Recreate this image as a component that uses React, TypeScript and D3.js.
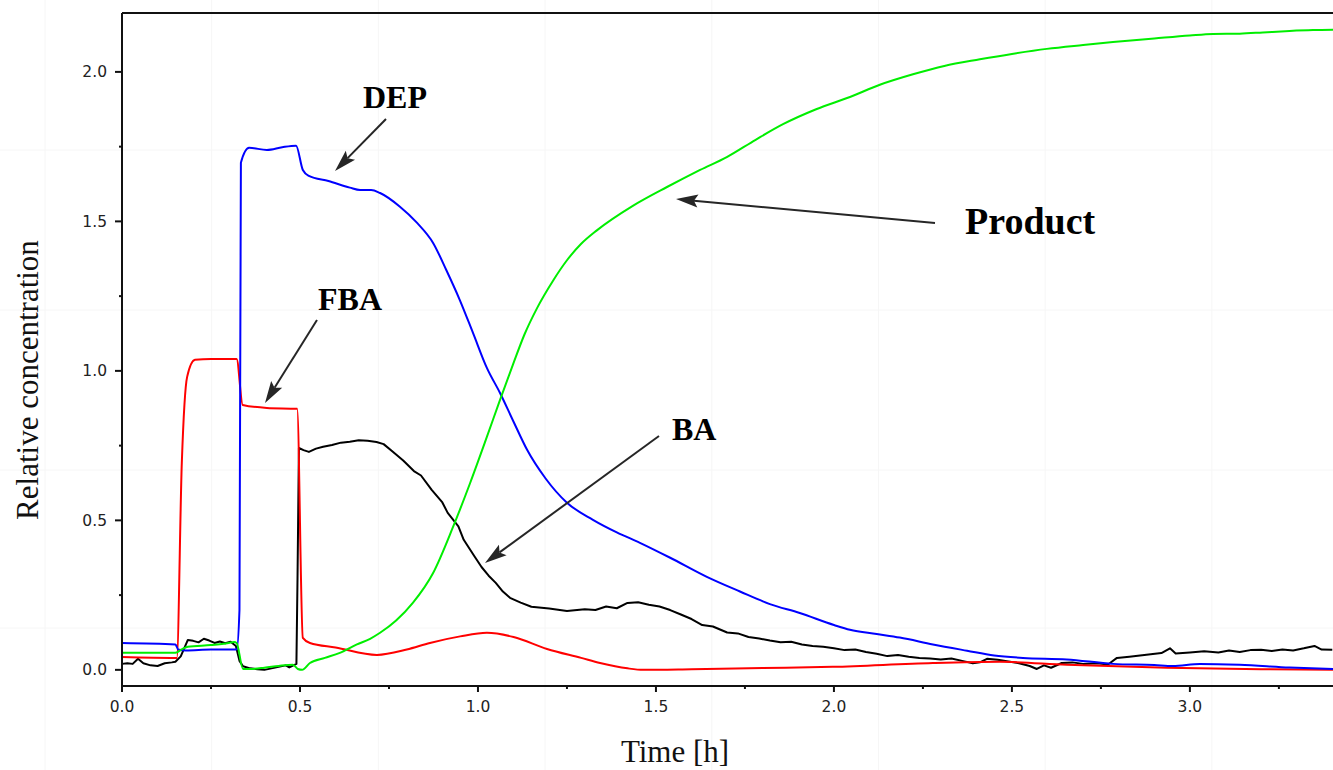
import React from "react";
import * as d3 from "d3";

// time [h] / relative concentration
const depTime = [0, 0.15, 0.158, 0.18, 0.25, 0.322, 0.33, 0.334, 0.357, 0.407, 0.45, 0.489, 0.508, 0.525, 0.58, 0.64, 0.669, 0.7, 0.725, 0.78, 0.829, 0.874, 0.91, 0.949, 0.986, 1.025, 1.062, 1.1, 1.138, 1.19, 1.25, 1.323, 1.39, 1.455, 1.54, 1.643, 1.736, 1.82, 1.904, 2.0, 2.045, 2.12, 2.185, 2.278, 2.374, 2.45, 2.531, 2.654, 2.784, 2.9, 2.952, 3.028, 3.14, 3.28, 3.402];
const depValue = [0.09, 0.085, 0.068, 0.065, 0.068, 0.068, 0.2, 1.696, 1.746, 1.739, 1.748, 1.753, 1.672, 1.652, 1.635, 1.613, 1.605, 1.605, 1.595, 1.55, 1.495, 1.428, 1.34, 1.237, 1.127, 1.01, 0.926, 0.83, 0.736, 0.64, 0.559, 0.502, 0.46, 0.425, 0.375, 0.311, 0.262, 0.22, 0.19, 0.15, 0.134, 0.12, 0.108, 0.085, 0.064, 0.048, 0.04, 0.035, 0.02, 0.016, 0.013, 0.02, 0.017, 0.008, 0.003];

const fbaTime = [0, 0.15, 0.154, 0.168, 0.183, 0.205, 0.25, 0.322, 0.339, 0.407, 0.492, 0.508, 0.528, 0.6, 0.716, 0.8, 0.865, 0.95, 1.025, 1.1, 1.194, 1.29, 1.343, 1.42, 1.464, 1.6, 1.8, 1.997, 2.278, 2.466, 2.654, 2.935, 3.2, 3.402];
const fbaValue = [0.043, 0.04, 0.04, 0.692, 0.98, 1.037, 1.04, 1.04, 0.886, 0.876, 0.873, 0.107, 0.09, 0.075, 0.05, 0.068, 0.09, 0.112, 0.124, 0.11, 0.07, 0.04, 0.023, 0.005, 0.0, 0.002, 0.006, 0.01, 0.023, 0.027, 0.017, 0.007, 0.002, 0.0];

const productTime = [0, 0.15, 0.17, 0.185, 0.25, 0.3, 0.315, 0.322, 0.34, 0.36, 0.4, 0.44, 0.48, 0.494, 0.506, 0.528, 0.57, 0.612, 0.66, 0.697, 0.725, 0.77, 0.817, 0.874, 0.93, 0.978, 1.025, 1.062, 1.098, 1.13, 1.166, 1.21, 1.25, 1.29, 1.334, 1.435, 1.531, 1.576, 1.624, 1.699, 1.78, 1.857, 1.95, 2.045, 2.129, 2.222, 2.31, 2.41, 2.5, 2.598, 2.7, 2.784, 2.9, 3.0, 3.065, 3.14, 3.205, 3.28, 3.346, 3.402];
const productValue = [0.057, 0.057, 0.07, 0.077, 0.083, 0.09, 0.093, 0.09, 0.003, 0.003, 0.007, 0.013, 0.017, 0.003, 0.0, 0.023, 0.04, 0.057, 0.085, 0.104, 0.124, 0.165, 0.224, 0.324, 0.478, 0.625, 0.779, 0.903, 1.02, 1.12, 1.21, 1.3, 1.37, 1.425, 1.47, 1.552, 1.615, 1.643, 1.672, 1.715, 1.773, 1.825, 1.875, 1.916, 1.957, 1.992, 2.02, 2.042, 2.06, 2.077, 2.09, 2.1, 2.112, 2.122, 2.127, 2.128, 2.132, 2.137, 2.14, 2.141];

const baTime = [0, 0.015, 0.03, 0.045, 0.06, 0.08, 0.1, 0.12, 0.14, 0.15, 0.165, 0.185, 0.2, 0.215, 0.23, 0.245, 0.26, 0.275, 0.29, 0.305, 0.32, 0.33, 0.34, 0.36, 0.38, 0.4, 0.42, 0.44, 0.46, 0.47, 0.48, 0.49, 0.493, 0.497, 0.51, 0.525, 0.545, 0.565, 0.59, 0.615, 0.64, 0.665, 0.69, 0.715, 0.735, 0.76, 0.79, 0.82, 0.84, 0.87, 0.9, 0.915, 0.945, 0.96, 0.99, 1.01, 1.03, 1.05, 1.07, 1.09, 1.12, 1.15, 1.2, 1.25, 1.3, 1.33, 1.36, 1.39, 1.42, 1.45, 1.48, 1.51, 1.54, 1.57, 1.6, 1.63, 1.66, 1.7, 1.73, 1.76, 1.79, 1.82, 1.85, 1.88, 1.91, 1.94, 1.97, 2.0, 2.03, 2.06, 2.09, 2.12, 2.15, 2.18, 2.21, 2.24, 2.27, 2.3, 2.33, 2.36, 2.39, 2.41, 2.43, 2.46, 2.49, 2.52, 2.55, 2.57, 2.59, 2.61, 2.64, 2.67, 2.7, 2.74, 2.77, 2.795, 2.83, 2.86, 2.89, 2.92, 2.944, 2.96, 3.0, 3.04, 3.08, 3.11, 3.14, 3.17, 3.2, 3.23, 3.26, 3.29, 3.32, 3.35, 3.37, 3.4];
const baValue = [0.02, 0.022, 0.02, 0.037, 0.022, 0.015, 0.013, 0.022, 0.025, 0.027, 0.045, 0.1, 0.097, 0.092, 0.104, 0.098, 0.09, 0.095, 0.089, 0.094, 0.08, 0.03, 0.012, 0.005, 0.002, 0.0, 0.005, 0.01, 0.015, 0.008, 0.014, 0.02, 0.3, 0.742, 0.735, 0.729, 0.74, 0.746, 0.752, 0.76, 0.763, 0.768, 0.766, 0.762, 0.755, 0.73, 0.7, 0.665, 0.65, 0.602, 0.56, 0.525, 0.48, 0.435, 0.38, 0.344, 0.315, 0.291, 0.262, 0.241, 0.225, 0.211, 0.205, 0.197, 0.203, 0.2, 0.212, 0.206, 0.224, 0.226, 0.218, 0.212, 0.2, 0.185, 0.17, 0.15, 0.145, 0.125, 0.122, 0.11, 0.105, 0.098, 0.092, 0.094, 0.085, 0.08, 0.077, 0.072, 0.066, 0.068, 0.06, 0.054, 0.046, 0.05, 0.044, 0.04, 0.038, 0.035, 0.038, 0.03, 0.022, 0.025, 0.037, 0.034, 0.028, 0.022, 0.013, 0.003, 0.015, 0.007, 0.023, 0.025, 0.02, 0.022, 0.018, 0.04, 0.044, 0.048, 0.052, 0.056, 0.072, 0.055, 0.058, 0.062, 0.058, 0.065, 0.06, 0.066, 0.067, 0.063, 0.068, 0.065, 0.072, 0.08, 0.068, 0.067];

const xTicks = [0, 0.5, 1, 1.5, 2, 2.5, 3];
const xMinor = [0.25, 0.75, 1.25, 1.75, 2.25, 2.75, 3.25];
const yTicks = [0, 0.5, 1, 1.5, 2];
const yMinor = [0.25, 0.75, 1.25, 1.75];

const W = 1333;
const H = 770;
const left = 122;
const top = 13;
const bottom = 686;

const x = d3.scaleLinear().domain([0, 3.402]).range([left, W]);
const y = d3.scaleLinear().domain([-0.054, 2.197]).range([bottom, top]);

const zip = (ts: number[], vs: number[]) => ts.map((t, i) => [t, vs[i]] as [number, number]);
const smooth = d3.line<[number, number]>().x(d => x(d[0])).y(d => y(d[1])).curve(d3.curveMonotoneX);
const rough = d3.line<[number, number]>().x(d => x(d[0])).y(d => y(d[1]));

const series = [
  { name: "BA", color: "#000000", pts: zip(baTime, baValue), gen: rough },
  { name: "FBA", color: "#ff0000", pts: zip(fbaTime, fbaValue), gen: smooth },
  { name: "DEP", color: "#0000ff", pts: zip(depTime, depValue), gen: smooth },
  { name: "Product", color: "#00ee00", pts: zip(productTime, productValue), gen: smooth },
];

// label text, position and arrow (tail -> tip)
const notes = [
  { text: "DEP", tx: 363, ty: 108, size: 32, from: [386, 119], to: [335, 171] },
  { text: "FBA", tx: 318, ty: 310, size: 32, from: [317, 320], to: [265, 403] },
  { text: "Product", tx: 965, ty: 234, size: 38, from: [935, 223], to: [676, 199] },
  { text: "BA", tx: 672, ty: 440, size: 32, from: [659, 436], to: [485, 563] },
];

function Arrow({ from, to }: { from: number[]; to: number[] }) {
  const dx = to[0] - from[0];
  const dy = to[1] - from[1];
  const len = Math.hypot(dx, dy);
  const ux = dx / len, uy = dy / len;
  const hl = 22, hw = 6.5;
  const bx = to[0] - ux * hl, by = to[1] - uy * hl;
  const head = `M${to[0]},${to[1]} L${bx - uy * hw},${by + ux * hw} L${bx + ux * 4},${by + uy * 4} L${bx + uy * hw},${by - ux * hw} Z`;
  return (
    <g>
      <line x1={from[0]} y1={from[1]} x2={bx + ux * 4} y2={by + uy * 4} stroke="#262626" strokeWidth={2} />
      <path d={head} fill="#262626" />
    </g>
  );
}

export default function App() {
  const tileX = d3.range(0, 8).map(i => 45 + i * 166.7);
  const tileY = [150, 310, 470, 628];
  return (
    <svg width={W} height={H} style={{ position: "absolute", left: 0, top: 0, background: "#fff" }}>
      {tileX.map(v => <line key={"tx" + v} x1={v} x2={v} y1={0} y2={H} stroke="#f6f6f6" strokeWidth={1} />)}
      {tileY.map(v => <line key={"ty" + v} x1={0} x2={W} y1={v} y2={v} stroke="#f6f6f6" strokeWidth={1} />)}

      {series.map(s => (
        <path key={s.name} d={s.gen(s.pts) || ""} fill="none" stroke={s.color} strokeWidth={2} strokeLinejoin="round" />
      ))}

      {/* frame */}
      <line x1={left} x2={W} y1={top} y2={top} stroke="#111" strokeWidth={2} />
      <line x1={left} x2={left} y1={top} y2={bottom + 1} stroke="#111" strokeWidth={2} />
      <line x1={left} x2={W} y1={bottom} y2={bottom} stroke="#111" strokeWidth={2} />

      {yTicks.map(v => (
        <g key={"y" + v}>
          <line x1={left - 7} x2={left} y1={y(v)} y2={y(v)} stroke="#111" strokeWidth={2} />
          <text x={left - 15} y={y(v)} dy="0.36em" textAnchor="end" fontFamily="DejaVu Sans" fontSize={15.5} fill="#222">
            {v.toFixed(1)}
          </text>
        </g>
      ))}
      {yMinor.map(v => <line key={"ym" + v} x1={left - 3} x2={left} y1={y(v)} y2={y(v)} stroke="#111" strokeWidth={2} />)}

      {xTicks.map(v => (
        <g key={"x" + v}>
          <line x1={x(v)} x2={x(v)} y1={bottom} y2={bottom + 6} stroke="#111" strokeWidth={2} />
          <text x={x(v)} y={712} textAnchor="middle" fontFamily="DejaVu Sans" fontSize={15.5} fill="#222">
            {v.toFixed(1)}
          </text>
        </g>
      ))}
      {xMinor.map(v => <line key={"xm" + v} x1={x(v)} x2={x(v)} y1={bottom} y2={bottom + 3} stroke="#111" strokeWidth={2} />)}

      <text x={675} y={762} textAnchor="middle" fontFamily="Liberation Serif" fontSize={31} fill="#111">Time [h]</text>
      <text transform="translate(38,380) rotate(-90)" textAnchor="middle" fontFamily="Liberation Serif" fontSize={31} fill="#111">
        Relative concentration
      </text>

      {notes.map(n => (
        <g key={n.text}>
          <Arrow from={n.from} to={n.to} />
          <text x={n.tx} y={n.ty} fontFamily="Liberation Serif" fontWeight="bold" fontSize={n.size} fill="#000">{n.text}</text>
        </g>
      ))}
    </svg>
  );
}
